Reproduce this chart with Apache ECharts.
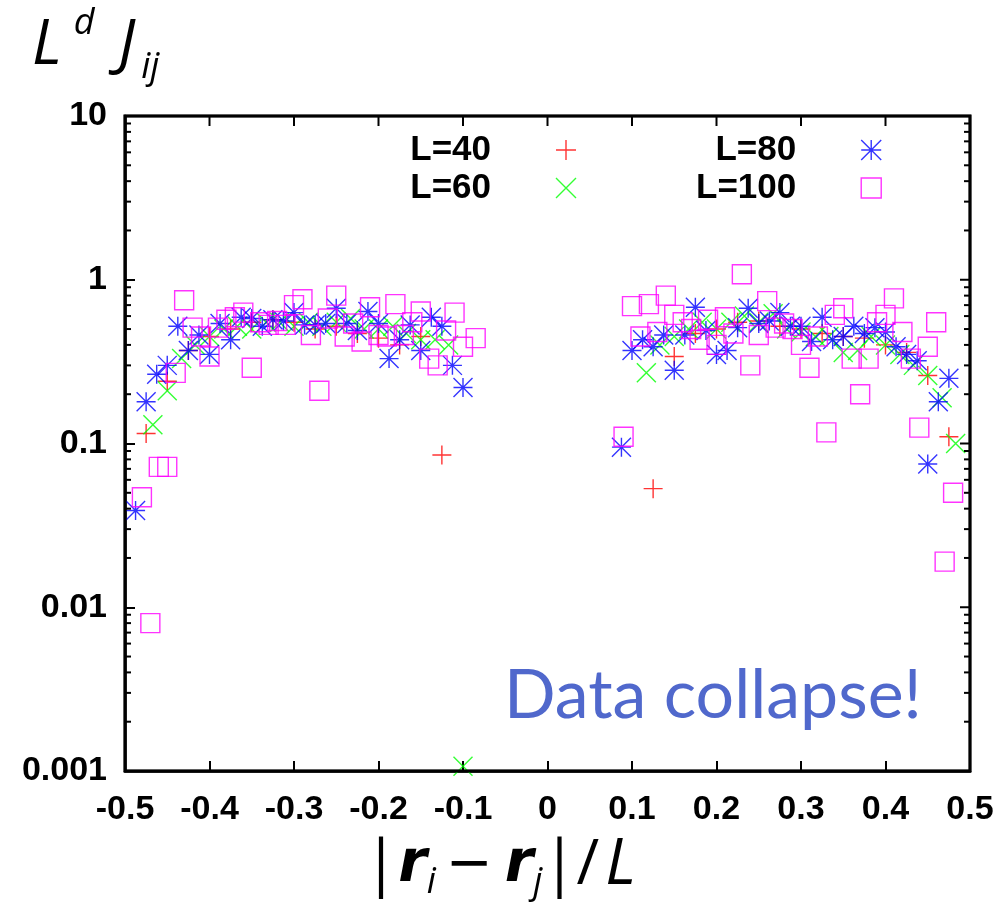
<!DOCTYPE html>
<html>
<head>
<meta charset="utf-8">
<script src="https://cdn.jsdelivr.net/npm/echarts@6/dist/echarts.min.js"></script>
<style>
  html, body { margin: 0; padding: 0; background: #fff; }
  #chart { width: 1005px; height: 911px; }
</style>
</head>
<body>
<div id="chart"></div>
<script>
// tick labels
const xTickValues = [-0.5, -0.4, -0.3, -0.2, -0.1, 0, 0.1, 0.2, 0.3, 0.4, 0.5];
const yTickLabels = ['0.001', '0.01', '0.1', '1', '10'];

// L=40 (red +)
const x40 = [-0.475, -0.45, -0.425, -0.4, -0.375, -0.35, -0.325, -0.3, -0.275, -0.25, -0.225, -0.2, -0.175, -0.15, -0.125,
  0.125, 0.15, 0.175, 0.2, 0.225, 0.25, 0.275, 0.3, 0.325, 0.35, 0.375, 0.4, 0.425, 0.45, 0.475];
const y40 = [0.115, 0.24, 0.37, 0.45, 0.5, 0.55, 0.57, 0.55, 0.5, 0.52, 0.47, 0.44, 0.4, 0.45, 0.085,
  0.053, 0.34, 0.47, 0.5, 0.55, 0.56, 0.52, 0.5, 0.47, 0.45, 0.44, 0.4, 0.36, 0.26, 0.11];

// L=60 (green x)
const x60 = [-0.467, -0.45, -0.433, -0.417, -0.4, -0.383, -0.367, -0.35, -0.333, -0.317, -0.3, -0.283, -0.267, -0.25,
  -0.233, -0.217, -0.2, -0.183, -0.167, -0.15, -0.133, -0.117, -0.1,
  0.117, 0.133, 0.15, 0.167, 0.183, 0.2, 0.217, 0.233, 0.25, 0.267, 0.283, 0.3, 0.317, 0.333, 0.35, 0.367,
  0.383, 0.4, 0.417, 0.433, 0.45, 0.467, 0.483];
const y60 = [0.13, 0.21, 0.33, 0.4, 0.45, 0.5, 0.52, 0.5, 0.55, 0.55, 0.52, 0.55, 0.52, 0.55,
  0.58, 0.5, 0.5, 0.52, 0.47, 0.43, 0.43, 0.4, 0.00107,
  0.27, 0.4, 0.45, 0.5, 0.55, 0.5, 0.55, 0.6, 0.55, 0.62, 0.5, 0.48, 0.45, 0.45, 0.36, 0.37,
  0.45, 0.4, 0.35, 0.3, 0.26, 0.19, 0.1];

// L=80 (blue *)
const x80 = [-0.4875, -0.475, -0.4625, -0.45, -0.4375, -0.425, -0.4125, -0.4, -0.3875, -0.375, -0.3625, -0.35,
  -0.3375, -0.325, -0.3125, -0.3, -0.2875, -0.275, -0.2625, -0.25, -0.2375, -0.225, -0.2125, -0.2, -0.1875,
  -0.175, -0.1625, -0.15, -0.1375, -0.125, -0.1125, -0.1,
  0.0875, 0.1, 0.1125, 0.125, 0.1375, 0.15, 0.1625, 0.175, 0.1875, 0.2, 0.2125, 0.225, 0.2375, 0.25, 0.2625,
  0.275, 0.2875, 0.3, 0.3125, 0.325, 0.3375, 0.35, 0.3625, 0.375, 0.3875, 0.4, 0.4125, 0.425, 0.4375, 0.45,
  0.4625, 0.475];
const y80 = [0.039, 0.18, 0.265, 0.3, 0.52, 0.37, 0.46, 0.35, 0.54, 0.43, 0.59, 0.58,
  0.52, 0.57, 0.56, 0.63, 0.53, 0.53, 0.54, 0.67, 0.54, 0.49, 0.64, 0.54, 0.33,
  0.43, 0.53, 0.37, 0.59, 0.52, 0.3, 0.22,
  0.095, 0.37, 0.43, 0.39, 0.46, 0.28, 0.46, 0.68, 0.49, 0.35, 0.37, 0.51, 0.67, 0.54, 0.56,
  0.63, 0.52, 0.52, 0.42, 0.59, 0.43, 0.45, 0.52, 0.47, 0.51, 0.48, 0.39, 0.35, 0.32, 0.075,
  0.18, 0.25];

// L=100 (magenta squares)
const x100 = [-0.48, -0.47, -0.46, -0.45, -0.44, -0.43, -0.42, -0.41, -0.4, -0.39, -0.38, -0.37, -0.36, -0.35,
  -0.34, -0.33, -0.32, -0.31, -0.3, -0.29, -0.28, -0.27, -0.26, -0.25, -0.24, -0.23, -0.22, -0.21, -0.2,
  -0.19, -0.18, -0.17, -0.16, -0.15, -0.14, -0.13, -0.12, -0.11, -0.1, -0.085,
  0.09, 0.1, 0.11, 0.12, 0.13, 0.14, 0.15, 0.16, 0.17, 0.18, 0.19, 0.2, 0.21, 0.22, 0.23, 0.24, 0.25,
  0.26, 0.27, 0.28, 0.29, 0.3, 0.31, 0.32, 0.33, 0.34, 0.35, 0.36, 0.37, 0.38, 0.39, 0.4, 0.41, 0.42,
  0.43, 0.44, 0.45, 0.46, 0.47, 0.48];
const y100 = [0.047, 0.008, 0.072, 0.072, 0.27, 0.75, 0.51, 0.45, 0.34, 0.51, 0.57, 0.59, 0.63, 0.29,
  0.55, 0.53, 0.56, 0.53, 0.7, 0.76, 0.46, 0.21, 0.58, 0.8, 0.45, 0.54, 0.42, 0.68, 0.46,
  0.45, 0.71, 0.46, 0.55, 0.64, 0.33, 0.3, 0.49, 0.63, 0.39, 0.44,
  0.11, 0.69, 0.45, 0.71, 0.48, 0.8, 0.61, 0.55, 0.5, 0.43, 0.57, 0.4, 0.59, 0.47, 1.08, 0.3, 0.46,
  0.74, 0.51, 0.54, 0.5, 0.4, 0.29, 0.45, 0.117, 0.61, 0.67, 0.33, 0.2, 0.33, 0.55, 0.61, 0.77, 0.48,
  0.33, 0.125, 0.39, 0.55, 0.019, 0.05];

const PLUS = 'path://M0,10L20,10M10,0L10,20';
const CROSS = 'path://M0,0L20,20M20,0L0,20';
const STAR = 'path://M0,10L20,10M10,0L10,20M0,0L20,20M20,0L0,20';

const chart = echarts.init(document.getElementById('chart'));

const zip = (xs, ys) => xs.map((x, i) => [x, ys[i]]);
const mkSeries = (name, xs, ys, symbol, color) => ({
  name: name,
  type: 'scatter',
  data: zip(xs, ys),
  symbol: symbol,
  symbolSize: 19,
  silent: true,
  itemStyle: { color: 'transparent', borderColor: color, borderWidth: 1.4 }
});

const tickFont = { fontFamily: 'Liberation Sans', fontWeight: 'bold', fontSize: 34, color: '#000' };
const frameLine = { show: true, onZero: false, lineStyle: { color: '#000', width: 2.5 } };
const tickIn = { show: true, inside: true, length: 10, lineStyle: { color: '#000', width: 2 } };

const legendText = {
  fontFamily: 'Liberation Sans', fontWeight: 'bold', fontSize: 35, color: '#000',
  width: 100, align: 'right', lineHeight: 38, padding: [0, 60, 0, 0]
};
const legendBase = {
  orient: 'vertical', align: 'right', itemGap: 0, itemWidth: 20, itemHeight: 20,
  selectedMode: false, top: 126, textStyle: legendText
};

const option = {
  animation: false,
  backgroundColor: '#fff',
  grid: { left: 125, right: 35, top: 116, bottom: 140, show: true, borderColor: '#000', borderWidth: 2.5, backgroundColor: 'transparent' },
  legend: [
    Object.assign({}, legendBase, {
      left: 386,
      data: [
        { name: 'L=40', icon: PLUS, itemStyle: { color: 'transparent', borderColor: '#ff0000', borderWidth: 1.4 } },
        { name: 'L=60', icon: CROSS, itemStyle: { color: 'transparent', borderColor: '#00ff00', borderWidth: 1.4 } }
      ]
    }),
    Object.assign({}, legendBase, {
      left: 691,
      data: [
        { name: 'L=80', icon: STAR, itemStyle: { color: 'transparent', borderColor: '#0000ff', borderWidth: 1.4 } },
        { name: 'L=100', icon: 'rect', itemStyle: { color: 'transparent', borderColor: '#ff00ff', borderWidth: 1.4 } }
      ]
    })
  ],
  xAxis: {
    type: 'value', min: -0.5, max: 0.5, interval: 0.1, position: 'bottom',
    axisLine: frameLine, axisTick: tickIn, splitLine: { show: false },
    axisLabel: Object.assign({ margin: 22, formatter: v => String(+v.toFixed(1)) }, tickFont)
  },
  yAxis: {
    type: 'log', logBase: 10, min: 0.001, max: 10, position: 'left',
    axisLine: frameLine, axisTick: tickIn, splitLine: { show: false },
    axisLabel: Object.assign({
      margin: 18,
      formatter: v => yTickLabels[Math.round(Math.log10(v)) + 3]
    }, tickFont)
  },
  series: [
    mkSeries('L=40', x40, y40, PLUS, '#ff0000'),
    mkSeries('L=60', x60, y60, CROSS, '#00ff00'),
    mkSeries('L=80', x80, y80, STAR, '#0000ff'),
    mkSeries('L=100', x100, y100, 'rect', '#ff00ff')
  ]
};

chart.setOption(option);

// frame, mirrored ticks and log-spaced minor ticks, placed through the axis scales
const toX = v => chart.convertToPixel({ xAxisIndex: 0 }, v);
const toY = v => chart.convertToPixel({ yAxisIndex: 0 }, v);
const xl = toX(-0.5);
const xr = toX(0.5);
const y1 = toY(1);
const dec = toY(0.1) - y1;
const yt = y1 - dec;
const yb = y1 + 3 * dec;
const graphics = [];
graphics.push({
  type: 'rect', silent: true, z: 20,
  shape: { x: xl, y: yt, width: xr - xl, height: yb - yt },
  style: { fill: null, stroke: '#000', lineWidth: 3 }
});
const seg = (xa, ya, xb, yb2, w) => graphics.push({
  type: 'line', silent: true, z: 10, shape: { x1: xa, y1: ya, x2: xb, y2: yb2 }, style: { stroke: '#000', lineWidth: w }
});
xTickValues.forEach(v => seg(toX(v), yt, toX(v), yt + 10, 2));
for (let e = -3; e <= 1; e++) {
  const py = y1 - e * dec;
  seg(xr - 10, py, xr, py, 2);
  if (e < 1) {
    for (let m = 2; m <= 9; m++) {
      const pm = py - Math.log10(m) * dec;
      seg(xl, pm, xl + 6, pm, 2);
      seg(xr - 6, pm, xr, pm, 2);
    }
  }
}

// axis titles and annotation
graphics.push({
  type: 'text', left: 32, top: 6, silent: true,
  style: {
    text: '{n|L}{sup|d}{j|J}{sub|ij}',
    rich: {
      n: { fontFamily: 'Open Sans', fontStyle: 'italic', fontSize: 62, lineHeight: 80, verticalAlign: 'middle', fill: '#000' },
      j: { fontFamily: 'Open Sans', fontStyle: 'italic', fontSize: 62, lineHeight: 80, verticalAlign: 'middle', padding: [0, 0, 0, 24], fill: '#000' },
      sup: { fontFamily: 'Open Sans', fontStyle: 'italic', fontSize: 36, lineHeight: 36, verticalAlign: 'top', padding: [0, 0, 0, 12], fill: '#000' },
      sub: { fontFamily: 'Open Sans', fontStyle: 'italic', fontSize: 36, lineHeight: 36, verticalAlign: 'bottom', padding: [0, 0, 0, 6], fill: '#000' }
    }
  }
});
graphics.push({
  type: 'text', x: 500, y: 866, silent: true,
  style: {
    text: '{n||}{r|r}{s|i}{m|−}{r|r}{s|j}{n||/}{l|L}',
    align: 'center', verticalAlign: 'middle',
    rich: {
      n: { fontFamily: 'Open Sans', fontWeight: 'normal', fontSize: 62, lineHeight: 70, verticalAlign: 'middle', fill: '#000' },
      m: { fontFamily: 'DejaVu Sans', fontWeight: 'normal', fontSize: 56, lineHeight: 70, verticalAlign: 'middle', padding: [0, 12, 0, 10], fill: '#000' },
      r: { fontFamily: 'DejaVu Sans', fontWeight: 'bold', fontStyle: 'italic', fontSize: 58, lineHeight: 70, verticalAlign: 'middle', fill: '#000' },
      l: { fontFamily: 'Open Sans', fontStyle: 'italic', fontSize: 64, lineHeight: 70, verticalAlign: 'middle', padding: [0, 0, 0, 6], fill: '#000' },
      s: { fontFamily: 'Open Sans', fontStyle: 'italic', fontSize: 36, lineHeight: 36, verticalAlign: 'bottom', fill: '#000' }
    }
  }
});
graphics.push({
  type: 'text', x: 504, y: 696, silent: true,
  style: { text: 'Data collapse!', fontFamily: 'Lato', fontSize: 68, fill: '#5068cc', align: 'left', verticalAlign: 'middle' }
});

chart.setOption({ graphic: graphics });
</script>
</body>
</html>
